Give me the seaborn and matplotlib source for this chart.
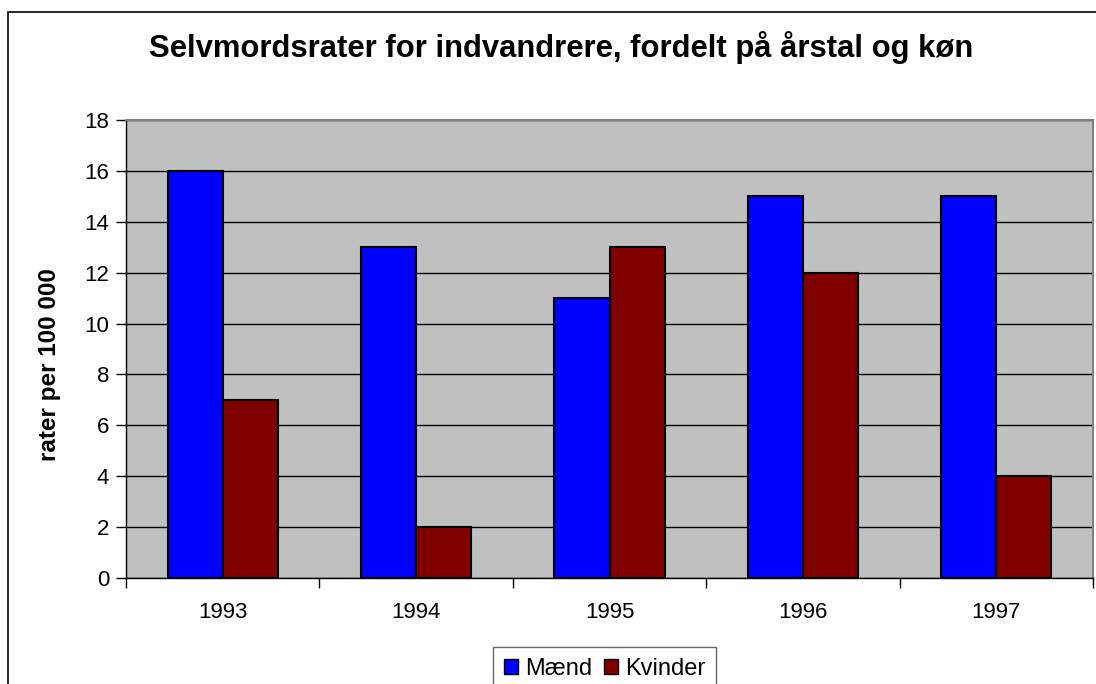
import matplotlib
matplotlib.use('Agg')
import matplotlib.pyplot as plt
import pandas as pd
import seaborn as sns
from matplotlib.patches import Rectangle

years = ['1993', '1994', '1995', '1996', '1997']
maend = [16, 13, 11, 15, 15]
kvinder = [7, 2, 13, 12, 4]

df = pd.DataFrame({
    'year': years * 2,
    'rate': maend + kvinder,
    'sex': ['Mænd'] * len(years) + ['Kvinder'] * len(years),
})

sns.set_style('white')
plt.rcParams['font.family'] = ['Liberation Sans', 'DejaVu Sans']
plt.rcParams['text.color'] = 'black'
plt.rcParams['xtick.color'] = 'black'
plt.rcParams['ytick.color'] = 'black'
plt.rcParams['axes.labelcolor'] = 'black'

fig = plt.figure(figsize=(10.96, 6.84), dpi=100)
ax = fig.add_axes([126 / 1096, 1 - 578 / 684, (1093 - 126) / 1096, (578 - 120) / 684])

sns.barplot(data=df, x='year', y='rate', hue='sex', order=years,
            hue_order=['Mænd', 'Kvinder'], palette=['#0000FF', '#800000'],
            width=0.57, gap=0, edgecolor='black', linewidth=1.5,
            saturation=1, ax=ax, zorder=3)

ax.set_facecolor('#C0C0C0')
ax.set_ylim(0, 18)
ax.set_xlim(-0.5, 4.5)
ax.set_yticks(range(0, 19, 2))
ax.yaxis.grid(True, color='black', linewidth=1)
ax.set_axisbelow(True)
ax.tick_params(axis='y', length=7, width=1, labelsize=16, pad=5, left=True)
ax.tick_params(axis='x', which='major', length=0, labelsize=16, pad=17)
ax.set_xticks([i + 0.5 for i in range(-1, 5)], minor=True)
ax.tick_params(axis='x', which='minor', length=7, width=1, bottom=True)

for s in ['top', 'right']:
    ax.spines[s].set_color('#808080')
    ax.spines[s].set_linewidth(1.5)
for s in ['left', 'bottom']:
    ax.spines[s].set_color('black')
    ax.spines[s].set_linewidth(1)

ax.set_xlabel('')
ax.set_ylabel('')
fig.text(50 / 1096, 1 - 365 / 684, 'rater per 100 000', rotation=90,
         ha='center', va='center', fontsize=17.5, fontweight='bold')

fig.suptitle('Selvmordsrater for indvandrere, fordelt på årstal og køn',
             x=561 / 1096, y=1 - 48 / 684, va='center', fontsize=22.3, fontweight='bold')

ax.legend_.remove()
handles = [Rectangle((0, 0), 1, 1, facecolor='#0000FF', edgecolor='black'),
           Rectangle((0, 0), 1, 1, facecolor='#800000', edgecolor='black')]
leg = fig.legend(handles, ['Mænd', 'Kvinder'], loc='upper left',
                 bbox_to_anchor=(493 / 1096, 1 - 647 / 684), ncol=2,
                 fontsize=17, frameon=True, fancybox=False, handlelength=0.6,
                 handleheight=0.6, handletextpad=0.3, columnspacing=0.5,
                 borderpad=0.45, borderaxespad=0)
leg.get_frame().set_edgecolor('#404040')
leg.get_frame().set_linewidth(1)

fig.patches.append(Rectangle((8 / 1096, -0.1), 1.2, 1 - 12 / 684 + 0.1,
                             transform=fig.transFigure, fill=False,
                             edgecolor='black', linewidth=1.2))

fig.savefig('out.png', dpi=100)
